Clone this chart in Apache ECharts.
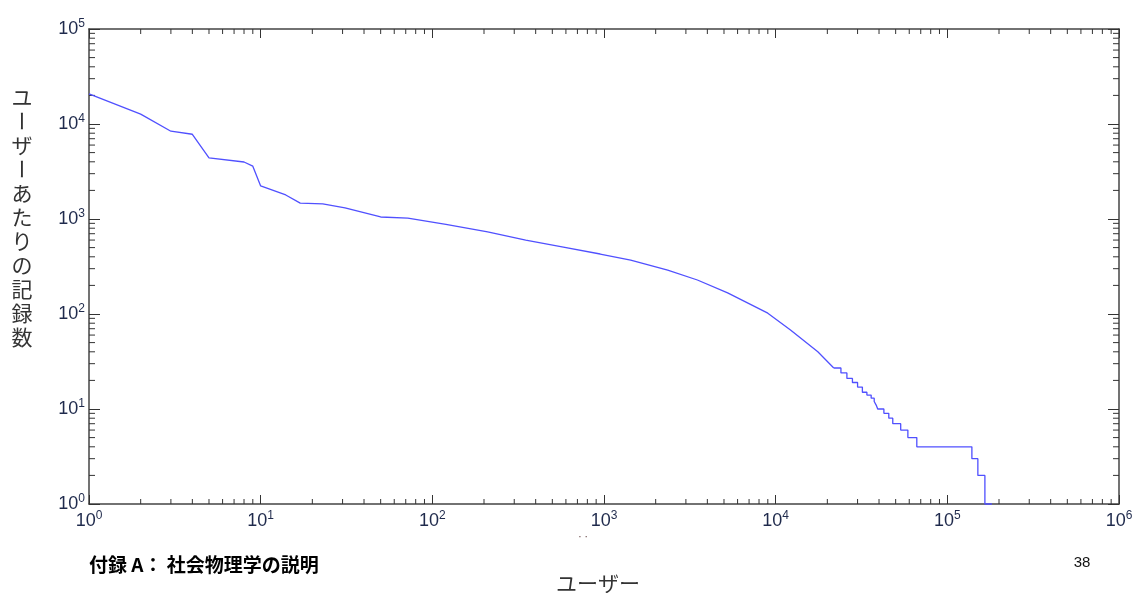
<!DOCTYPE html>
<html>
<head>
	<meta charset="UTF-8">
	<title>ユーザーあたりの記録数</title>
	<style>
		html, body {margin: 0; padding: 0; background: #fff;}
		#chart1 {width: 1138px; height: 593px;}
	</style>
</head>
<body>
<div id="chart1"></div>
<script src="https://cdn.jsdelivr.net/npm/echarts@6/dist/echarts.min.js"></script>
<script type="text/javascript">

    // 上部のなめらかな部分（順位, 記録数）
    var mainRank = [1, 2, 3, 4, 5, 8, 9, 10, 14, 17, 23, 31, 50, 72, 120, 210, 350, 580, 950, 1430, 2350, 3500, 5250, 9000, 12200, 17600, 21800];
    var mainCount = [20800, 12700, 8400, 7800, 4400, 3980, 3600, 2230, 1790, 1470, 1440, 1310, 1050, 1020, 880, 730, 600, 507, 428, 370, 290, 228, 167, 102, 68, 40, 27];

    // 裾の階段部分
    var tailRank = [21800, 24000, 26000, 28000, 30000, 32000, 34000, 36000, 37500, 38500, 39300, 42700, 45600, 48100, 53500, 58900, 66400, 139000, 150600, 165500, 181700];
    var tailCount = [27, 24, 21, 19, 17, 15, 14, 13, 12, 11, 10, 9, 8, 7, 6, 5, 4, 3, 2, 1, 1];

    // 目盛り
    var xDecades = [1, 10, 100, 1000, 10000, 100000];
    var yDecades = [1, 10, 100, 1000, 10000];
    var minorSteps = [2, 3, 4, 5, 6, 7, 8, 9];

    var yTitle = 'ユーザーあたりの記録数';
    var xTitle = 'ユーザー';
    var footerLeft = '付録 A： 社会物理学の説明';
    var pageNo = '38';

    var labelColor = '#1f2a4c';
    var lineColor = '#5050ff';

    function toPairs(xs, ys) {
        var out = [];
        for (var i = 0; i < xs.length; i++) out.push([xs[i], ys[i]]);
        return out;
    }

    function minorList(decades) {
        var out = [];
        decades.forEach(function (d) {
            minorSteps.forEach(function (m) { out.push(d * m); });
        });
        return out;
    }

    function powLabel(value) {
        var e = Math.round(Math.log(value) / Math.LN10);
        return '{b|10}{s|' + e + '}';
    }

    var labelRich = {
        b: {fontSize: 18, fontFamily: 'Liberation Sans', color: labelColor, lineHeight: 22},
        s: {fontSize: 12, fontFamily: 'Liberation Sans', color: labelColor, verticalAlign: 'top', lineHeight: 14}
    };

    var axisLineStyle = {color: '#444', width: 1.5};
    var tickStyle = {color: '#333', width: 1};

    // 縦書きのタイトル（長音記号は回転させる）
    var yTitleChars = [];
    for (var i = 0; i < yTitle.length; i++) {
        var ch = yTitle.charAt(i);
        yTitleChars.push({
            type: 'text',
            x: 22,
            y: 97 + 24 * i,
            rotation: ch === 'ー' ? -Math.PI / 2 : 0,
            style: {
                text: ch,
                font: '21px "Noto Sans CJK JP"',
                fill: '#333',
                align: 'center',
                verticalAlign: 'middle'
            }
        });
    }

    var chart1 = echarts.init(document.getElementById('chart1'), null, {renderer: 'canvas'});

    chart1.setOption({
        animation: false,
        grid: {left: 89, top: 29, right: 19, bottom: 89},
        xAxis: [
            {
                type: 'log', logBase: 10, min: 1, max: 1000000, splitNumber: 6,
                axisLine: {lineStyle: axisLineStyle},
                axisTick: {inside: true, length: 9, lineStyle: tickStyle},
                axisLabel: {formatter: powLabel, rich: labelRich, margin: 6, showMinLabel: true, showMaxLabel: true},
                splitLine: {show: false}
            },
            {
                type: 'log', logBase: 10, min: 1, max: 1000000, splitNumber: 6, position: 'top',
                axisLine: {lineStyle: axisLineStyle},
                axisTick: {inside: true, length: 9, lineStyle: tickStyle},
                axisLabel: {show: false},
                splitLine: {show: false}
            }
        ],
        yAxis: [
            {
                type: 'log', logBase: 10, min: 1, max: 100000, splitNumber: 5,
                axisLine: {lineStyle: axisLineStyle},
                axisTick: {inside: true, length: 11, lineStyle: tickStyle},
                axisLabel: {formatter: powLabel, rich: labelRich, margin: 4, showMinLabel: true, showMaxLabel: true},
                splitLine: {show: false}
            },
            {
                type: 'log', logBase: 10, min: 1, max: 100000, splitNumber: 5, position: 'right',
                axisLine: {lineStyle: axisLineStyle},
                axisTick: {inside: true, length: 11, lineStyle: tickStyle},
                axisLabel: {show: false},
                splitLine: {show: false}
            }
        ],
        series: [
            {
                name: 'main',
                type: 'line',
                data: toPairs(mainRank, mainCount),
                showSymbol: false,
                lineStyle: {color: lineColor, width: 1.3},
                clip: false
            },
            {
                name: 'tail',
                type: 'line',
                step: 'end',
                data: toPairs(tailRank, tailCount),
                showSymbol: false,
                lineStyle: {color: lineColor, width: 1.3},
                clip: false
            },
            {
                // x軸の補助目盛り（上下）
                type: 'custom',
                silent: true,
                data: minorList(xDecades).map(function (v) { return [v, 1]; }),
                renderItem: function (params, api) {
                    var p = api.coord([api.value(0), 1]);
                    var cs = params.coordSys;
                    return {
                        type: 'group',
                        children: [
                            {type: 'line', shape: {x1: p[0], y1: cs.y + cs.height, x2: p[0], y2: cs.y + cs.height - 5}, style: {stroke: '#333', lineWidth: 1}},
                            {type: 'line', shape: {x1: p[0], y1: cs.y, x2: p[0], y2: cs.y + 5}, style: {stroke: '#333', lineWidth: 1}}
                        ]
                    };
                }
            },
            {
                // y軸の補助目盛り（左右）
                type: 'custom',
                silent: true,
                data: minorList(yDecades).map(function (v) { return [1, v]; }),
                renderItem: function (params, api) {
                    var p = api.coord([1, api.value(1)]);
                    var cs = params.coordSys;
                    return {
                        type: 'group',
                        children: [
                            {type: 'line', shape: {x1: cs.x, y1: p[1], x2: cs.x + 6, y2: p[1]}, style: {stroke: '#333', lineWidth: 1}},
                            {type: 'line', shape: {x1: cs.x + cs.width, y1: p[1], x2: cs.x + cs.width - 6, y2: p[1]}, style: {stroke: '#333', lineWidth: 1}}
                        ]
                    };
                }
            }
        ],
        graphic: [
            {type: 'group', children: yTitleChars},
            {
                type: 'text', x: 598, y: 583,
                style: {text: xTitle, font: '21px "Noto Sans CJK JP"', fill: '#333', align: 'center', verticalAlign: 'middle'}
            },
            {
                type: 'text', x: 89, y: 565,
                style: {text: footerLeft, font: 'bold 19px "Noto Sans CJK JP"', fill: '#000', align: 'left', verticalAlign: 'middle'}
            },
            {
                type: 'text', x: 1082, y: 563,
                style: {text: pageNo, font: '15px "Liberation Sans"', fill: '#111', align: 'center', verticalAlign: 'middle'}
            },
            {
                type: 'text', x: 583, y: 537,
                style: {text: '· ·', font: '10px "Liberation Sans"', fill: '#553333', align: 'center', verticalAlign: 'middle'}
            }
        ]
    });

</script>
</body>
</html>
